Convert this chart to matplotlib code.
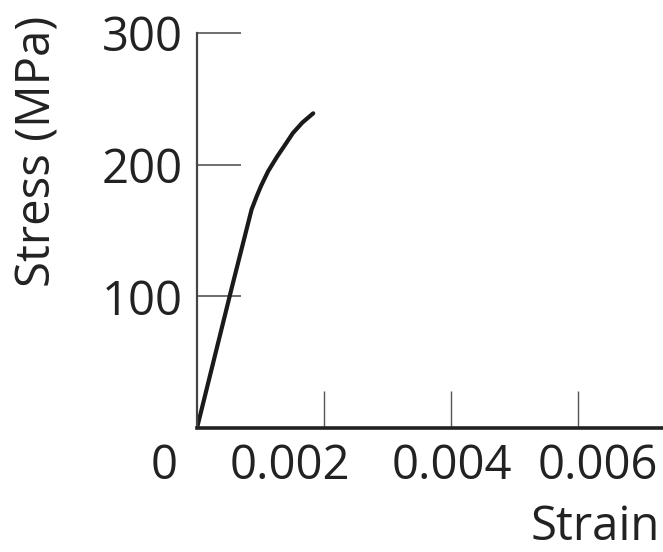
import matplotlib.pyplot as plt
import matplotlib.transforms as mtransforms

# curve
strain = [0, 0.00055, 0.00086, 0.00094, 0.00101, 0.00112, 0.00126, 0.00140, 0.00151, 0.00166, 0.00183]
stress = [0, 107, 166, 176, 184, 195, 206, 216, 224, 232, 239]

# axis ticks and labels
x_ticks = [0.002, 0.004, 0.006]
x_labels = ["0", "0.002", "0.004", "0.006"]
x_label_pos = [-0.00051, 0.00146, 0.00401, 0.00631]
y_ticks = [100, 200, 300]
y_labels = ["100", "200", "300"]

plt.rcParams['font.family'] = ['Open Sans', 'DejaVu Sans']
TXT = "#222222"
FS = 34

fig = plt.figure(figsize=(6.63, 5.52), dpi=100)
ax = fig.add_axes([197 / 663, 124 / 552, 466 / 663, 395 / 552])

ax.plot(strain, stress, color="#1a1a1a", lw=3.0, solid_capstyle="round",
        solid_joinstyle="round")

ax.set_xlim(0, 466 / 63500)
ax.set_ylim(0, 300)

for s in ["top", "right"]:
    ax.spines[s].set_visible(False)
ax.spines["left"].set_linewidth(1.6)
ax.spines["left"].set_color("#444444")
ax.spines["bottom"].set_linewidth(2.6)
ax.spines["bottom"].set_color("#222222")

ax.set_xticks(x_ticks)
ax.set_xticklabels([])
ax.tick_params(axis="x", direction="in", length=27, width=1.0, color="#555555")
ax.set_yticks(y_ticks)
ax.set_yticklabels(y_labels, fontsize=FS, color=TXT)
ax.tick_params(axis="y", direction="in", length=32, width=1.2, color="#555555", pad=10)

# x tick labels sit a bit apart from the tick marks in the original
trans = mtransforms.blended_transform_factory(ax.transData, ax.transAxes)
for pos, lab in zip(x_label_pos, x_labels):
    ax.text(pos, -0.096, lab, transform=trans, ha="center", va="center",
            fontsize=FS, color=TXT, clip_on=False)

fig.text(38 / 663, 1 - 151 / 552, "Stress (MPa)", rotation=90, ha="center",
         va="center", fontsize=FS, color=TXT)
fig.text(0.995, 0.002, "Strain", ha="right", va="bottom",
         fontsize=FS, color=TXT)

plt.savefig("out.png", dpi=100)
